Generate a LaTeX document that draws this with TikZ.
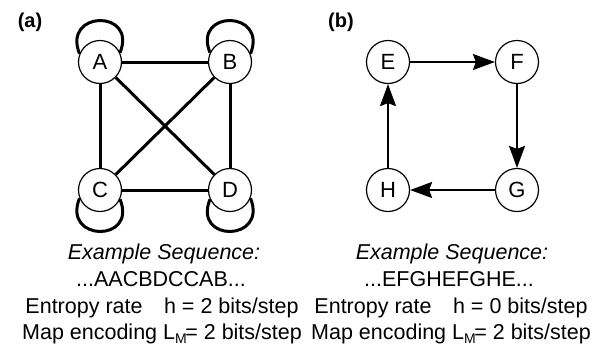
\documentclass[tikz,border=0pt]{standalone}
\usepackage{fontspec}
\setmainfont{Liberation Sans}
\usetikzlibrary{arrows.meta}
\tikzset{
	state/.style={circle,draw,line width=1.2pt,fill=white,minimum size=43pt,inner sep=0pt,font=\fontsize{22}{22}\selectfont},
	link/.style={line width=3pt},
	flow/.style={line width=2pt,-{Stealth[length=22pt,width=16pt,inset=3pt]}},
	txt/.style={anchor=base,font=\fontsize{21.5}{24}\selectfont},
	panel/.style={font=\bfseries\fontsize{20}{20}\selectfont}
}
\begin{document}
\begin{tikzpicture}[x=1pt,y=-1pt]
				\useasboundingbox (0,0) rectangle (599,349);
				\node[panel] (pa) at (30,22) {(a)};
				\node[panel] (pb) at (341,22) {(b)};
				\node[state] (A) at (100,62) {A};
				\node[state] (B) at (230,62) {B};
				\node[state] (C) at (100,190) {C};
				\node[state] (D) at (230,190) {D};
				\draw[link] (A) -- (B);
				\draw[link] (A) -- (C);
				\draw[link] (B) -- (D);
				\draw[link] (C) -- (D);
				\draw[link] (A) -- (D);
				\draw[link] (B) -- (C);
				\draw[link] (A.158) .. controls +(112:47pt) and +(68:47pt) .. (A.25);
				\draw[link] (B.155) .. controls +(112:47pt) and +(68:47pt) .. (B.22);
				\draw[link] (C.202) .. controls +(248:47pt) and +(292:47pt) .. (C.335);
				\draw[link] (D.205) .. controls +(248:47pt) and +(292:47pt) .. (D.338);
				\node[state] (E) at (388,62) {E};
				\node[state] (F) at (517,62) {F};
				\node[state] (H) at (388,190) {H};
				\node[state] (G) at (517,190) {G};
				\draw[flow] (E) -- (F);
				\draw[flow] (F) -- (G);
				\draw[flow] (G) -- (H);
				\draw[flow] (H) -- (E);
				\node[txt,font=\itshape\fontsize{21.5}{24}\selectfont] (hdA) at (164,259) {Example Sequence:};
				\node[txt] (seqA) at (161,286) {...AACBDCCAB...};
				\node[txt] (entA) at (162,313) {Entropy rate\quad h = 2 bits/step};
				\node[txt] (mapA) at (162,339) {Map encoding L\raisebox{-4pt}{\fontsize{14}{14}\selectfont M}\kern-1.5pt= 2 bits/step};
				\node[txt,font=\itshape\fontsize{21.5}{24}\selectfont] (hdB) at (452,259) {Example Sequence:};
				\node[txt] (seqB) at (449,286) {...EFGHEFGHE...};
				\node[txt] (entB) at (451,313) {Entropy rate\quad h = 0 bits/step};
				\node[txt] (mapB) at (451,339) {Map encoding L\raisebox{-4pt}{\fontsize{14}{14}\selectfont M}\kern-1.5pt= 2 bits/step};
			\end{tikzpicture}
\end{document}
